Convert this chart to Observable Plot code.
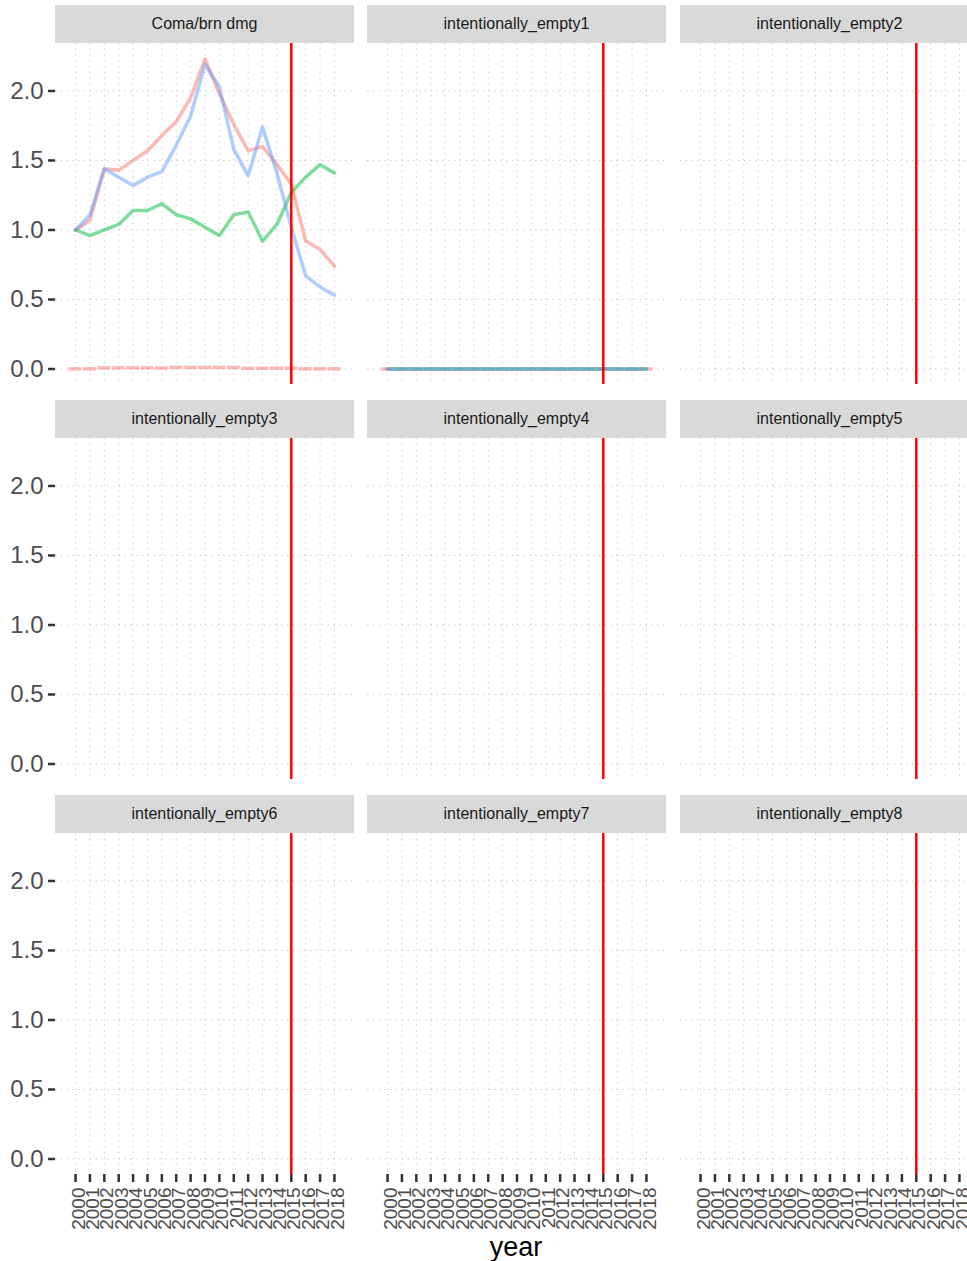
<!DOCTYPE html>
<html><head><meta charset="utf-8">
<script src="https://cdn.jsdelivr.net/npm/d3@7"></script>
<script src="https://cdn.jsdelivr.net/npm/@observablehq/plot@0.6"></script>
<style>
html,body{margin:0;padding:0;background:#fff;overflow:hidden;}
#chart{position:relative;width:990px;height:1261px;font-family:"Liberation Sans",Arial,Helvetica,sans-serif;}
.strip{position:absolute;height:38px;background:#d9d9d9;color:#1a1a1a;font-size:16px;display:flex;align-items:center;justify-content:center;}
.panel{position:absolute;}
.panel svg{overflow:visible;}
.xtitle{position:absolute;font-size:27px;line-height:27px;color:#000;text-align:center;}
</style></head>
<body><div id="chart"></div>
<script>
// ---- data ----
const years = [2000,2001,2002,2003,2004,2005,2006,2007,2008,2009,2010,2011,2012,2013,2014,2015,2016,2017,2018];
const panelNames = ["Coma/brn dmg","intentionally_empty1","intentionally_empty2",
  "intentionally_empty3","intentionally_empty4","intentionally_empty5",
  "intentionally_empty6","intentionally_empty7","intentionally_empty8"];
const seriesNames = ["s1","s2","s3"];
const seriesColors = ["#F8766D","#00BA38","#619CFF"];
const cutYear = [2015];
const yTicks = [0,0.5,1.0,1.5,2.0];
// Coma/brn dmg
const comaS1 = [1.00,1.07,1.44,1.43,1.50,1.57,1.68,1.78,1.95,2.23,1.98,1.76,1.57,1.60,1.47,1.33,0.92,0.86,0.74];
const comaS2 = [1.00,0.96,1.00,1.04,1.14,1.14,1.19,1.11,1.08,1.02,0.96,1.11,1.13,0.92,1.04,1.27,1.38,1.47,1.41];
const comaS3 = [1.00,1.11,1.44,1.38,1.32,1.38,1.42,1.61,1.82,2.19,2.03,1.58,1.39,1.74,1.41,1.02,0.67,0.59,0.53];
const comaBase = [0.001,0.001,0.008,0.008,0.008,0.008,0.007,0.012,0.012,0.012,0.012,0.011,0.005,0.005,0.006,0.006,0.001,0.001,0.001];
// intentionally_empty1 (only series s2 and s3 have lines)
const empty1S2 = [0,0,0,0,0,0,0,0,0,0,0,0,0,0,0,0,0,0,0];
const empty1S3 = [0,0,0,0,0,0,0,0,0,0,0,0,0,0,0,0,0,0,0];
const empty1Base = [0,0,0,0,0,0,0,0,0,0,0,0,0,0,0,0,0,0,0];

const panelSeries = {
  "Coma/brn dmg": {lines: [[0, comaS1], [1, comaS2], [2, comaS3]], base: comaBase},
  "intentionally_empty1": {lines: [[1, empty1S2], [2, empty1S3]], base: empty1Base}
};

// ---- scales (ggplot-like 5% expansion) ----
const halfW = 0.45;
const allVals = [].concat(comaS1, comaS2, comaS3, comaBase, empty1S2, empty1S3, empty1Base);
const yMin = d3.min(allVals), yMax = d3.max(allVals);
const yPad = (yMax - yMin) * 0.05;
const yDomain = [yMin - yPad, yMax + yPad];
const xLo = years[0] - halfW, xHi = years[years.length - 1] + halfW;
const xPad = (xHi - xLo) * 0.05;
const xDomain = [xLo - xPad, xHi + xPad];

// ---- layout ----
const colLeft = [55, 367, 680];
const rowTop = [5, 400, 795];
const panelW = 299, stripH = 38, plotH = 341;
const chart = document.getElementById("chart");
const font = '"Liberation Sans", Arial, Helvetica, sans-serif';
const gridStyle = {stroke: "#c4c4c4", strokeOpacity: 1, strokeWidth: 1, strokeDasharray: "1.2,4.6"};

panelNames.forEach((name, i) => {
  const r = Math.floor(i / 3), c = i % 3;
  const strip = document.createElement("div");
  strip.className = "strip";
  strip.style.left = colLeft[c] + "px";
  strip.style.top = rowTop[r] + "px";
  strip.style.width = panelW + "px";
  strip.textContent = name;
  chart.appendChild(strip);

  const ml = c === 0 ? 55 : 0;
  const mb = r === 2 ? 62 : 0;
  const marks = [
    Plot.gridY(yTicks, gridStyle),
    Plot.gridX(years, gridStyle)
  ];
  const ps = panelSeries[name];
  if (ps) {
    const baseData = years.map((y, k) => ({year: y, value: ps.base[k]}));
    marks.push(Plot.ruleY(baseData, {
      y: "value", x1: d => d.year - halfW, x2: d => d.year + halfW,
      stroke: seriesColors[0], strokeOpacity: 0.5, strokeWidth: 3.5
    }));
    ps.lines.forEach(([s, vals]) => {
      const data = years.map((y, k) => ({year: y, value: vals[k], series: seriesNames[s]}));
      marks.push(Plot.line(data, {
        x: "year", y: "value", stroke: seriesColors[s], strokeOpacity: 0.5,
        strokeWidth: 3.5, strokeLinejoin: "round"
      }));
    });
  }
  marks.push(Plot.ruleX(cutYear, {stroke: "#ff0000", strokeWidth: 2.5}));
  if (c === 0) {
    marks.push(Plot.axisY(yTicks, {
      tickFormat: d => d.toFixed(1), tickSize: 7, tickPadding: 5,
      fontSize: 24, fill: "#4d4d4d", stroke: "#333333", strokeWidth: 2.5, label: null
    }));
  }
  if (r === 2) {
    marks.push(Plot.axisX(years, {
      tickFormat: () => "", tickSize: 8, tickPadding: 5,
      stroke: "#333333", strokeWidth: 2.5, label: null
    }));
    marks.push(Plot.axisX(years, {
      tickFormat: d => String(d), tickSize: 0, tickPadding: 13, tickRotate: -90, dx: 3,
      fontSize: 19, fill: "#4d4d4d", label: null
    }));
  }
  const svg = Plot.plot({
    width: panelW + ml, height: plotH + mb,
    marginLeft: ml, marginRight: 0, marginTop: 0, marginBottom: mb,
    x: {domain: xDomain, axis: null},
    y: {domain: yDomain, axis: null},
    style: {background: "transparent", fontFamily: font, overflow: "visible"},
    marks
  });
  const wrap = document.createElement("div");
  wrap.className = "panel";
  wrap.style.left = (c === 0 ? 0 : colLeft[c]) + "px";
  wrap.style.top = (rowTop[r] + stripH) + "px";
  wrap.appendChild(svg);
  chart.appendChild(wrap);
});

const title = document.createElement("div");
title.className = "xtitle";
title.style.left = "416px";
title.style.width = "200px";
title.style.top = "1234px";
title.textContent = "year";
chart.appendChild(title);
</script>
</body></html>
